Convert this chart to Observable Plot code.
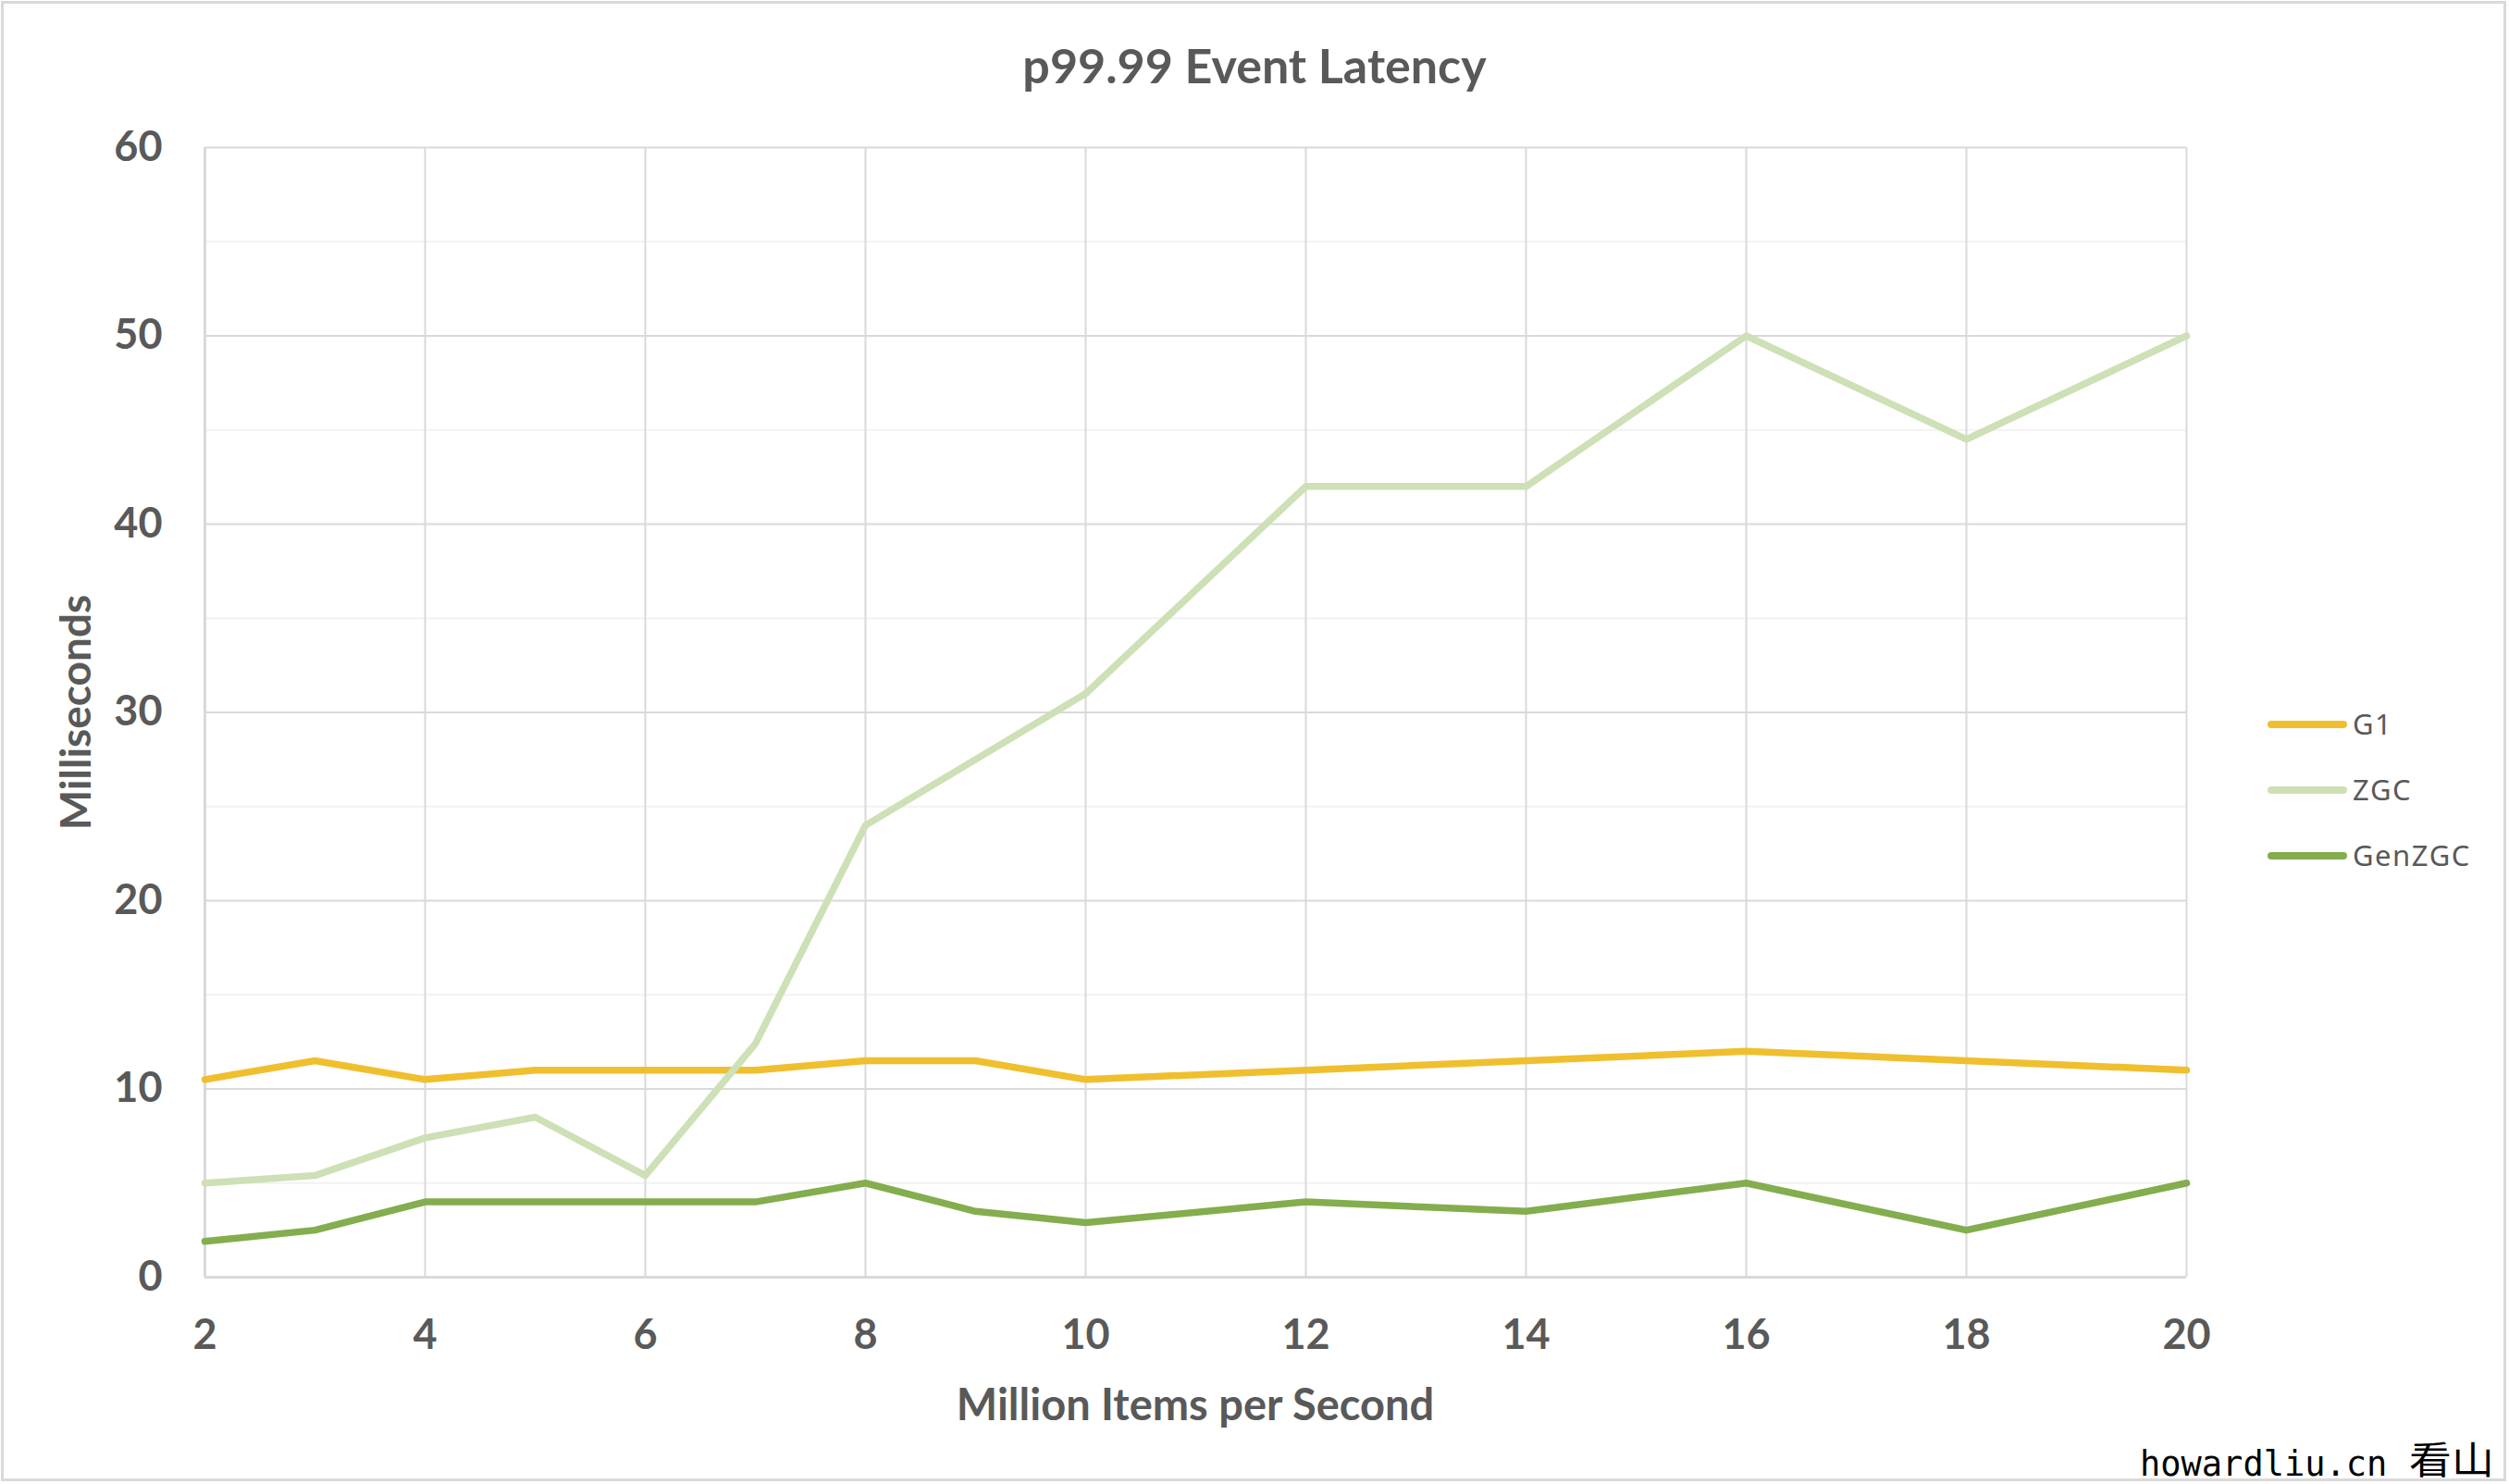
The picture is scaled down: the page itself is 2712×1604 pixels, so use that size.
<!DOCTYPE html>
<html>
<head>
<meta charset="utf-8">
<script src="https://cdn.jsdelivr.net/npm/d3@7"></script>
<script src="https://cdn.jsdelivr.net/npm/@observablehq/plot@0.6"></script>
<style>
  html, body { margin: 0; padding: 0; background: #fff; }
  #chart { position: relative; width: 2712px; height: 1604px; overflow: hidden; background: #fff; }
  #frame { position: absolute; left: 1px; top: 1px; width: 2708px; height: 1600px; border: 3px solid #d9d9d9; box-sizing: border-box; pointer-events: none; }
  #plot { position: absolute; left: 0; top: 0; }
  .lbl { position: absolute; font-family: Lato, "Open Sans", sans-serif; font-weight: bold; color: #595959; line-height: 1; white-space: nowrap; }
  .leg-line { position: absolute; height: 8px; border-radius: 4px; }
  .leg-text { position: absolute; font-family: "Noto Sans", sans-serif; font-size: 31px; color: #595959; letter-spacing: 1.5px; line-height: 1; white-space: nowrap; }
  #wm { position: absolute; left: 2313px; top: 1564px; font-family: "DejaVu Sans Mono", monospace; font-size: 37px; color: #000; line-height: 1; white-space: nowrap; }
  #wmcjk { position: absolute; left: 2604px; top: 1555px; font-family: "Noto Sans CJK SC", sans-serif; font-size: 41px; color: #000; line-height: 1; white-space: nowrap; transform-origin: left top; transform: scaleX(1.12); }
</style>
</head>
<body>
<div id="chart">
  <div id="plot"></div>
</div>
<script>
const xValues = [2, 3, 4, 5, 6, 7, 8, 9, 10, 12, 14, 16, 18, 20];
const g1Values = [10.5, 11.5, 10.5, 11, 11, 11, 11.5, 11.5, 10.5, 11, 11.5, 12, 11.5, 11];
const zgcValues = [5, 5.4, 7.4, 8.5, 5.4, 12.4, 24, 27.5, 31, 42, 42, 50, 44.5, 50];
const genzgcValues = [1.9, 2.5, 4, 4, 4, 4, 5, 3.5, 2.9, 4, 3.5, 5, 2.5, 5];
const seriesNames = ["G1", "ZGC", "GenZGC"];
const seriesColors = ["#f0bf2e", "#cde0b6", "#84ad4e"];
const xTicks = [2, 4, 6, 8, 10, 12, 14, 16, 18, 20];
const yTicks = [0, 10, 20, 30, 40, 50, 60];
const yMinorTicks = [5, 15, 25, 35, 45, 55];
const titleText = "p99.99 Event Latency";
const xTitle = "Million Items per Second";
const yTitle = "Milliseconds";
const watermarkLatin = "howardliu.cn";
const watermarkCJK = "看山";

const seriesValues = [g1Values, zgcValues, genzgcValues];
const rows = [];
seriesNames.forEach((name, i) => {
  xValues.forEach((x, j) => rows.push({series: name, x, y: seriesValues[i][j]}));
});

const chart = Plot.plot({
  width: 2712,
  height: 1604,
  marginLeft: 221,
  marginRight: 349,
  marginTop: 159,
  marginBottom: 224,
  style: {fontFamily: "Lato, 'Open Sans', sans-serif", fontSize: "45px", fontWeight: "bold", color: "#595959", background: "transparent", overflow: "visible"},
  x: {domain: [2, 20], ticks: xTicks, tickSize: 0, tickPadding: 46, label: null, tickFormat: d => String(d)},
  y: {domain: [0, 60], ticks: yTicks, tickSize: 0, tickPadding: 46, label: null},
  color: {domain: seriesNames, range: seriesColors},
  marks: [
    Plot.ruleY(yMinorTicks, {stroke: "#f2f2f2", strokeWidth: 2}),
    Plot.ruleY(yTicks.filter(v => v > 0), {stroke: "#d9d9d9", strokeWidth: 2}),
    Plot.ruleX(xTicks.filter(v => v > 2), {stroke: "#d9d9d9", strokeWidth: 2}),
    Plot.ruleX([2], {stroke: "#d9d9d9", strokeWidth: 3}),
    Plot.ruleY([0], {stroke: "#d9d9d9", strokeWidth: 3}),
    Plot.line(rows, {x: "x", y: "y", z: "series", stroke: "series", strokeWidth: 7.5, strokeLinejoin: "round", strokeLinecap: "round"})
  ]
});
document.getElementById("plot").appendChild(chart);

const root = document.getElementById("chart");
function addEl(cls, text, css) {
  const d = document.createElement("div");
  d.className = cls;
  if (text != null) d.textContent = text;
  Object.assign(d.style, css);
  root.appendChild(d);
  return d;
}
// title
addEl("lbl", titleText, {left: "0px", width: "2712px", textAlign: "center", top: "44px", fontSize: "52px"});
// x axis title
addEl("lbl", xTitle, {left: "1292px", top: "1494px", fontSize: "47px", transform: "translateX(-50%)"});
// y axis title
addEl("lbl", yTitle, {left: "81px", top: "770px", fontSize: "46px", transform: "translate(-50%,-50%) rotate(-90deg)"});
// legend
const legY = [783, 854, 925];
seriesNames.forEach((name, i) => {
  addEl("leg-line", null, {left: "2451px", top: (legY[i] - 4) + "px", width: "86px", background: seriesColors[i]});
  addEl("leg-text", name, {left: "2543px", top: (legY[i] - 16) + "px"});
});
// watermark
addEl("", watermarkLatin, {}).id = "wm";
addEl("", watermarkCJK, {}).id = "wmcjk";
addEl("", null, {}).id = "frame";
</script>
</body>
</html>
